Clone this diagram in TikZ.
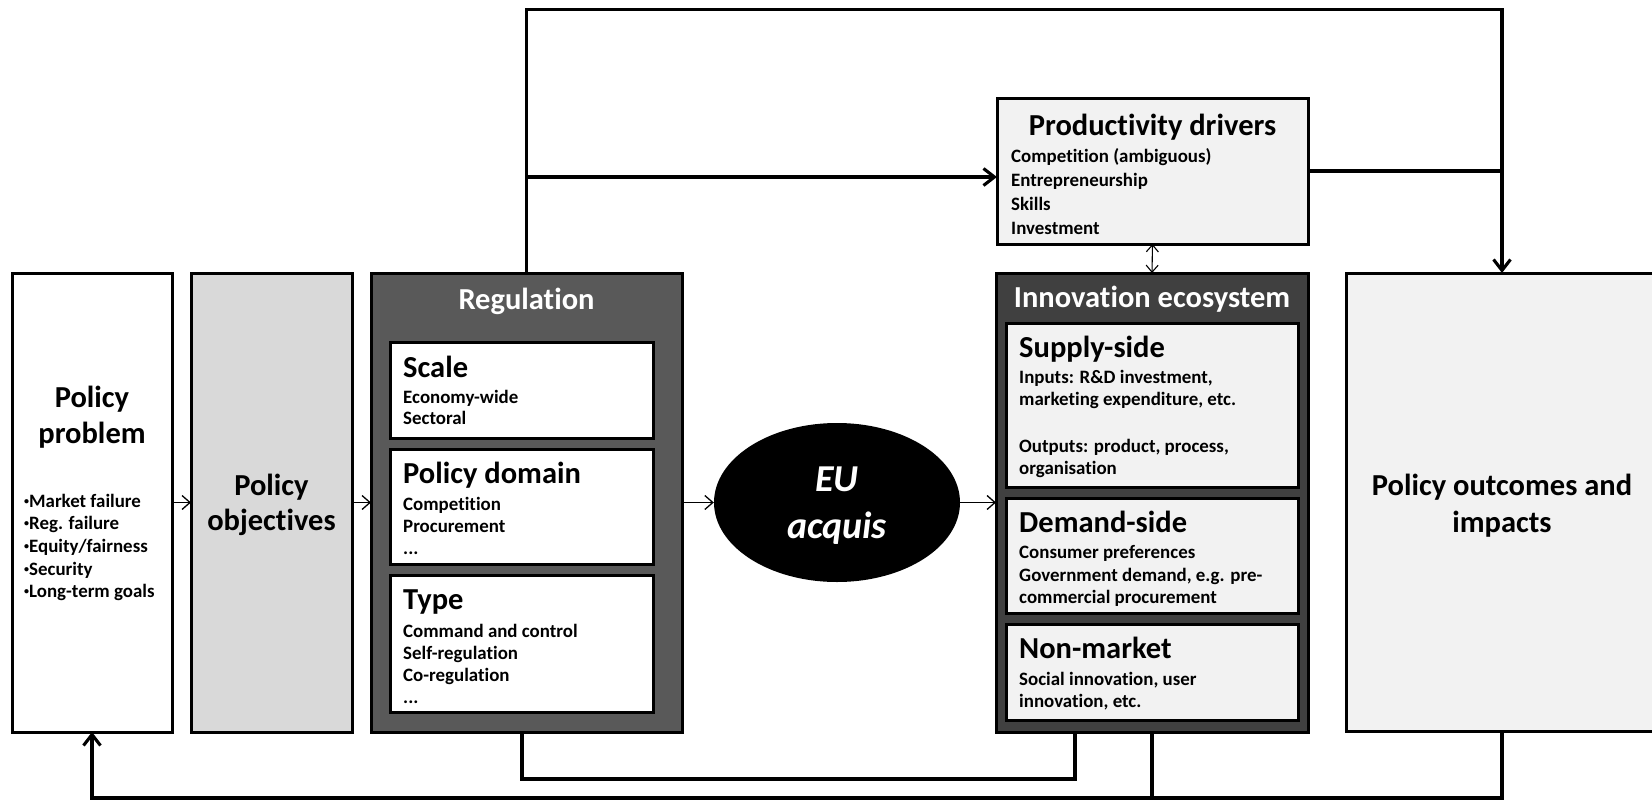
\documentclass[tikz,border=0pt]{standalone}
\usepackage{fontspec}
\setmainfont{Carlito}[Ligatures=NoCommon]
\usetikzlibrary{arrows.meta,shapes.geometric}
\definecolor{regfill}{HTML}{595959}
\definecolor{innofill}{HTML}{404040}
\definecolor{objfill}{HTML}{D9D9D9}
\definecolor{lightfill}{HTML}{F2F2F2}
\newcommand{\ttlfont}{\fontsize{30.5}{36}\selectfont\bfseries}
\newcommand{\itemfont}{\fontsize{18.9}{22}\selectfont\bfseries}
\newcommand{\eufont}{\fontsize{38}{46}\selectfont\bfseries\itshape}
\newcommand{\smbul}{\raisebox{3pt}{\fontsize{10}{10}\selectfont •}}
\begin{document}
\begin{tikzpicture}[x=1pt,y=-1pt,
  box/.style={draw=black, line width=3pt, rectangle, inner sep=0pt, outer sep=0pt, anchor=north west},
  conn/.style={line width=3.1pt},
  thickarrow/.style={conn, -{Straight Barb[length=11pt,width=17pt]}},
  thinarrow/.style={line width=1.3pt, -{Straight Barb[length=8pt,width=14pt]}},
  ttl/.style={font=\ttlfont, inner sep=0pt, anchor=base},
  wttl/.style={ttl, text=white},
  subttl/.style={font=\ttlfont, inner sep=0pt, anchor=base west},
  itm/.style={font=\itemfont, inner sep=0pt, anchor=base west},
]
\useasboundingbox (0,0) rectangle (1652,800);
\clip (0,0) rectangle (1652,800);

% ---- main boxes
\node[box, fill=white, minimum width=160pt, minimum height=459pt] (pp) at (12,273) {};
\node[box, fill=objfill, minimum width=161pt, minimum height=459pt] (pobj) at (191,273) {};
\node[box, fill=regfill, minimum width=311pt, minimum height=459pt] (reg) at (371,273) {};
\node[box, fill=innofill, minimum width=312pt, minimum height=459pt] (inno) at (996,273) {};
\node[box, fill=lightfill, minimum width=311pt, minimum height=146pt] (prod) at (997,98) {};
\node[box, fill=lightfill, minimum width=312pt, minimum height=458pt] (out) at (1346,273) {};
\node[ellipse, fill=black, minimum width=246pt, minimum height=159pt, inner sep=0pt] (eu) at (837,502.5) {};

% ---- inner boxes
\node[box, fill=white, minimum width=263pt, minimum height=96pt] (scale) at (390,342) {};
\node[box, fill=white, minimum width=263pt, minimum height=115pt] (domain) at (390,449) {};
\node[box, fill=white, minimum width=263pt, minimum height=137pt] (type) at (390,575) {};
\node[box, fill=lightfill, minimum width=292pt, minimum height=164pt] (supply) at (1006,323) {};
\node[box, fill=lightfill, minimum width=292pt, minimum height=115pt] (demand) at (1006,498) {};
\node[box, fill=lightfill, minimum width=292pt, minimum height=96pt] (nonmkt) at (1006,624) {};

% ---- Policy problem
\node[ttl] (ppt1) at (92,407) {Policy};
\node[ttl] (ppt2) at (92,443) {problem};
\node[itm] (ppb1) at (24,507) {\smbul Market failure};
\node[itm] (ppb2) at (24,529) {\smbul Reg. failure};
\node[itm] (ppb3) at (24,552) {\smbul Equity/fairness};
\node[itm] (ppb4) at (24,575) {\smbul Security};
\node[itm] (ppb5) at (24,597) {\smbul Long-term goals};

% ---- Policy objectives
\node[ttl] (pot1) at (271.5,495) {Policy};
\node[ttl] (pot2) at (271.5,530) {objectives};

% ---- Regulation
\node[wttl] (regt) at (526.5,309) {Regulation};
\node[subttl] (sct) at (403,377) {Scale};
\node[itm] (sc1) at (403,403) {Economy-wide};
\node[itm] (sc2) at (403,424) {Sectoral};
\node[subttl] (dmt) at (403,483) {Policy domain};
\node[itm] (dm1) at (403,510) {Competition};
\node[itm] (dm2) at (403,532) {Procurement};
\node[itm] (dm3) at (403,554) {...};
\node[subttl] (tyt) at (403,609) {Type};
\node[itm] (ty1) at (403,637) {Command and control};
\node[itm] (ty2) at (403,659) {Self-regulation};
\node[itm] (ty3) at (403,681) {Co-regulation};
\node[itm] (ty4) at (403,703) {...};

% ---- EU acquis
\node[font=\eufont, text=white, inner sep=0pt, anchor=base] (eut1) at (837,491) {EU};
\node[font=\eufont, text=white, inner sep=0pt, anchor=base] (eut2) at (837,538) {acquis};

% ---- Productivity drivers
\node[ttl] (prt) at (1152.5,135) {Productivity drivers};
\node[itm] (pr1) at (1011,162) {Competition (ambiguous)};
\node[itm] (pr2) at (1011,186) {Entrepreneurship};
\node[itm] (pr3) at (1011,210) {Skills};
\node[itm] (pr4) at (1011,234) {Investment};

% ---- Innovation ecosystem
\node[wttl] (inot) at (1152,307) {Innovation ecosystem};
\node[subttl] (sut) at (1019,357) {Supply-side};
\node[itm] (su1) at (1019,383) {Inputs: R\&D investment,};
\node[itm] (su2) at (1019,405) {marketing expenditure, etc.};
\node[itm] (su3) at (1019,452) {Outputs: product, process,};
\node[itm] (su4) at (1019,474) {organisation};
\node[subttl] (det) at (1019,532) {Demand-side};
\node[itm] (de1) at (1019,558) {Consumer preferences};
\node[itm] (de2) at (1019,581) {Government demand, e.g. pre-};
\node[itm] (de3) at (1019,603) {commercial procurement};
\node[subttl] (nmt) at (1019,658) {Non-market};
\node[itm] (nm1) at (1019,685) {Social innovation, user};
\node[itm] (nm2) at (1019,707) {innovation, etc.};

% ---- Policy outcomes
\node[ttl] (out1) at (1502,495) {Policy outcomes and};
\node[ttl] (out2) at (1502,532) {impacts};

% ---- route levels
\coordinate (ytop) at (0,9.5);
\coordinate (ylow) at (0,779);
\coordinate (ybot) at (0,798);
\coordinate (pa) at ([yshift=-6pt]prod.west);
\coordinate (rb) at ([xshift=-4.5pt]reg.south);
\coordinate (ib) at ([xshift=-77pt]inno.south);

% ---- thin arrows
\draw[thinarrow] (pp.east) -- (pobj.west);
\draw[thinarrow] (pobj.east) -- (reg.west);
\draw[thinarrow] (reg.east) -- (eu.west);
\draw[thinarrow] (eu.east) -- (inno.west);
\draw[line width=1.1pt, {Straight Barb[length=7pt,width=12pt]}-{Straight Barb[length=7pt,width=12pt]}] (prod.south) -- (inno.north);

% ---- thick connectors
\draw[thickarrow] (reg.north) -- (reg.north |- ytop) -| (out.north);
\draw[thickarrow] (reg.north |- pa) -- (pa);
\draw[conn] (prod.east) -- (prod.east -| out.north);
\draw[conn] (rb) -- (rb |- ylow) -| (ib);
\draw[conn] (inno.south) -- (inno.south |- ybot);
\draw[thickarrow] (out.south) -- (out.south |- ybot) -| (pp.south);
\end{tikzpicture}
\end{document}
